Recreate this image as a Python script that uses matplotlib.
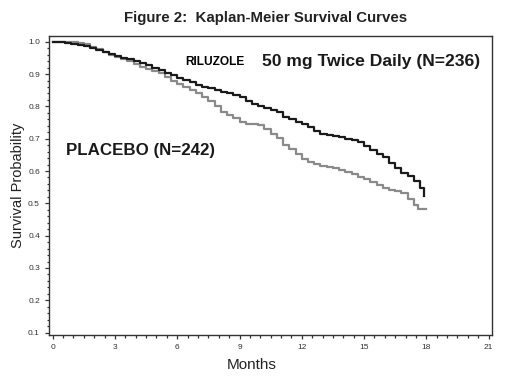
import matplotlib
matplotlib.use("Agg")
import matplotlib.pyplot as plt
from matplotlib.ticker import MultipleLocator

plt.rcParams['font.family'] = ['Liberation Sans', 'DejaVu Sans']

# Riluzole 50 mg twice daily
ril_months = [0, 0.3, 0.6, 0.9, 1.2, 1.5, 1.8, 2.1, 2.4, 2.7, 3.0, 3.3, 3.6, 3.9,
              4.2, 4.5, 4.8, 5.1, 5.4, 5.7, 6.0, 6.3, 6.6, 6.9, 7.2, 7.5, 7.8,
              8.1, 8.4, 8.7, 9.0, 9.3, 9.6, 9.9, 10.2, 10.5, 10.8, 11.1, 11.4,
              11.7, 12.0, 12.3, 12.6, 12.9, 13.2, 13.5, 13.8, 14.1, 14.4, 14.7,
              15.0, 15.3, 15.6, 15.9, 16.2, 16.5, 16.8, 17.1, 17.4, 17.7, 17.9]
ril_surv = [1.0, 0.998, 0.996, 0.993, 0.99, 0.986, 0.981, 0.975, 0.968, 0.962,
            0.956, 0.951, 0.946, 0.940, 0.934, 0.927, 0.920, 0.912, 0.904, 0.896,
            0.889, 0.881, 0.874, 0.867, 0.861, 0.856, 0.851, 0.846, 0.840, 0.835,
            0.829, 0.818, 0.806, 0.800, 0.795, 0.790, 0.782, 0.768, 0.760, 0.751,
            0.744, 0.736, 0.725, 0.716, 0.712, 0.708, 0.705, 0.700, 0.696, 0.690,
            0.678, 0.665, 0.652, 0.643, 0.625, 0.608, 0.594, 0.585, 0.570, 0.548,
            0.522]

# Placebo
pla_months = [0, 0.4, 0.8, 1.2, 1.5, 1.8, 2.1, 2.4, 2.7, 3.0, 3.3, 3.6, 3.9, 4.2,
              4.5, 4.8, 5.1, 5.4, 5.7, 6.0, 6.3, 6.6, 6.9, 7.2, 7.5, 7.8, 8.1,
              8.4, 8.7, 9.0, 9.3, 9.6, 9.9, 10.2, 10.5, 10.8, 11.1, 11.4, 11.7,
              12.0, 12.3, 12.6, 12.9, 13.2, 13.5, 13.8, 14.1, 14.4, 14.7, 15.0,
              15.3, 15.6, 15.9, 16.2, 16.5, 16.8, 17.1, 17.4, 17.6, 18.0]
pla_surv = [1.0, 0.999, 0.998, 0.996, 0.992, 0.984, 0.976, 0.968, 0.960, 0.954,
            0.948, 0.940, 0.930, 0.922, 0.916, 0.910, 0.903, 0.892, 0.880, 0.870,
            0.861, 0.850, 0.840, 0.830, 0.818, 0.800, 0.784, 0.774, 0.764, 0.751,
            0.747, 0.744, 0.741, 0.730, 0.716, 0.702, 0.680, 0.667, 0.652, 0.638,
            0.628, 0.622, 0.617, 0.613, 0.609, 0.603, 0.597, 0.591, 0.582, 0.575,
            0.566, 0.556, 0.547, 0.541, 0.537, 0.532, 0.515, 0.495, 0.482, 0.482]

fig = plt.figure(figsize=(5.1, 3.78), dpi=100)
ax = fig.add_axes([0.096, 0.114, 0.869, 0.791])

ax.step(pla_months, pla_surv, where='post', color='#8a8a8a', lw=1.6)
ax.step(ril_months, ril_surv, where='post', color='#1a1a1a', lw=1.6)

ax.set_xlim(-0.18, 21.17)
ax.set_ylim(0.093, 1.018)
ax.set_xticks(range(0, 22, 3))
ax.set_yticks([0.1, 0.2, 0.3, 0.4, 0.5, 0.6, 0.7, 0.8, 0.9, 1.0])
ax.set_yticklabels(['0.1', '0.2', '0.3', '0.4', '0.5', '0.6', '0.7', '0.8', '0.9', '1.0'])
ax.xaxis.set_minor_locator(MultipleLocator(0.5))
ax.yaxis.set_minor_locator(MultipleLocator(0.02))
ax.tick_params(which='major', labelsize=6, length=3, width=0.9, colors='#333333')
ax.tick_params(which='minor', length=1.8, width=0.9, color='#333333')
for s in ax.spines.values():
    s.set_linewidth(1.0)
    s.set_color('#333333')

ax.set_ylabel('Survival Probability', fontsize=10.5, color='#222222', labelpad=2)
fig.text(0.494, 0.035, 'Months', ha='center', va='center', fontsize=11, color='#222222')

fig.text(0.52, 0.952, 'Figure 2:  Kaplan-Meier Survival Curves', ha='center', va='center',
         fontsize=10.8, fontweight='bold', color='#222222')
ax.text(6.4, 0.938, 'RILUZOLE', ha='left', va='center', fontsize=8.6, fontweight='bold',
        color='black')
ax.text(10.1, 0.94, '50 mg Twice Daily (N=236)', ha='left', va='center', fontsize=12.6,
        fontweight='bold', color='#1a1a1a')
ax.text(0.62, 0.662, 'PLACEBO (N=242)', ha='left', va='center', fontsize=12.2,
        fontweight='bold', color='#1a1a1a')

fig.savefig('out.png', dpi=100)
